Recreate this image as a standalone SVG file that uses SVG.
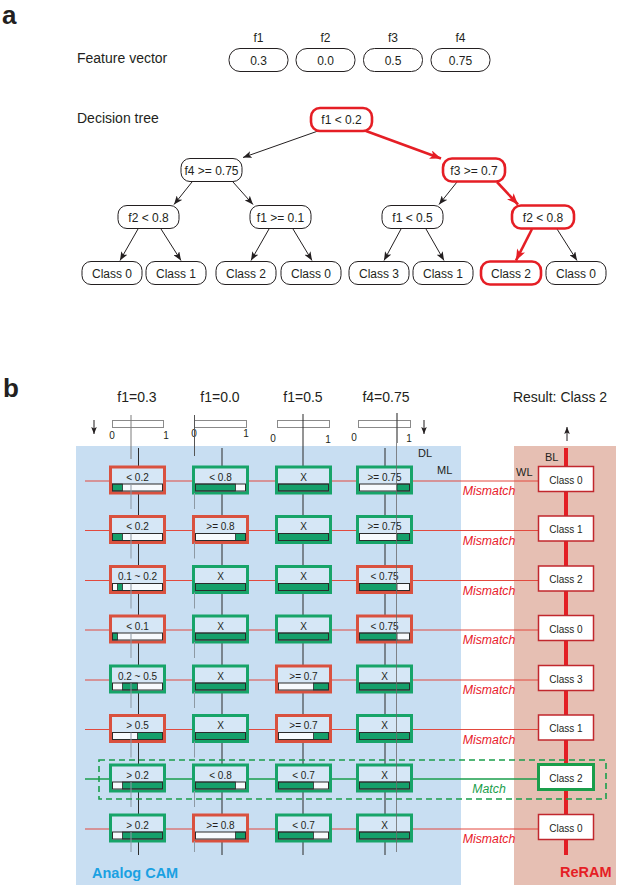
<svg xmlns="http://www.w3.org/2000/svg" width="619" height="886" viewBox="0 0 619 886">
<defs>
<marker id="ah" viewBox="0 0 10 8" refX="10" refY="4" markerWidth="9" markerHeight="7" markerUnits="userSpaceOnUse" orient="auto"><path d="M0,0 L10,4 L0,8 L2.5,4 z" fill="#231f20"/></marker>
<marker id="ahr" viewBox="0 0 10 8" refX="10" refY="4" markerWidth="12" markerHeight="9" markerUnits="userSpaceOnUse" orient="auto"><path d="M0,0 L10,4 L0,8 L2.5,4 z" fill="#e51e25"/></marker>
<marker id="ahs" viewBox="0 0 10 8" refX="10" refY="4" markerWidth="7" markerHeight="6" markerUnits="userSpaceOnUse" orient="auto"><path d="M0,0 L10,4 L0,8 L2,4 z" fill="#231f20"/></marker>
</defs>
<style>
text{font-family:"Liberation Sans",Arial,Helvetica,sans-serif;fill:#231f20}
.lbl{font-weight:bold}
.t14{font-size:14px}
.t12{font-size:12px}
.t11{font-size:11px}
.t10{font-size:10px}
.mid{text-anchor:middle}
.node rect,.fv rect{fill:#fff;stroke:#231f20;stroke-width:1}
.node.hot rect{stroke:#e51e25;stroke-width:2.6}
.node text,.fv text{font-size:12px;text-anchor:middle}
.edge{stroke:#231f20;stroke-width:1;fill:none;marker-end:url(#ah)}
.edge.hot{stroke:#e51e25;stroke-width:2.6;marker-end:url(#ahr)}
.cam text{font-size:10px;text-anchor:middle}
.cam .cb{fill:#d6e7f6;stroke-width:3}
.cam.r .cb{stroke:#d9513f}
.cam.g .cb{stroke:#17a469}
.cam .bw{fill:#f7fafd}
.cam .bg{fill:#15a06b;stroke:#2b2b2b;stroke-width:0.8}
.cam .bo{fill:none;stroke:#2b2b2b;stroke-width:1}
.rr rect{fill:#fff;stroke:#c1272d;stroke-width:1.5}
.rr.ok rect{stroke:#1a9e4b;stroke-width:3}
.rr text{font-size:10px;text-anchor:middle}
.ml{stroke:#e2493e;stroke-width:1}
.ml.ok{stroke:#1a9e4b;stroke-width:1.6}
.dl{stroke:#2b2b2b;stroke-width:1}
.mk{stroke:#8d99a4;stroke-width:1}
.mis{font-size:12.3px;font-style:italic;fill:#e8202a;text-anchor:middle}
.mat{font-size:12.3px;font-style:italic;fill:#1a9e4b;text-anchor:middle}
.rule{fill:none;stroke:#8a8a8a;stroke-width:1}
</style>

<!-- ===== Part a ===== -->
<text class="lbl" x="2" y="24" font-size="26">a</text>
<text class="t14" x="77" y="63">Feature vector</text>
<text class="t14" x="77" y="123">Decision tree</text>

<g id="feature-vector">
  <g id="fv1" class="fv"><text x="258.5" y="42">f1</text><rect x="229" y="48.5" width="59" height="23" rx="11"/><text x="258.5" y="64.5">0.3</text></g>
  <g id="fv2" class="fv"><text x="325.5" y="42">f2</text><rect x="296" y="48.5" width="59" height="23" rx="11"/><text x="325.5" y="64.5">0.0</text></g>
  <g id="fv3" class="fv"><text x="393" y="42">f3</text><rect x="363.5" y="48.5" width="59" height="23" rx="11"/><text x="393" y="64.5">0.5</text></g>
  <g id="fv4" class="fv"><text x="460.5" y="42">f4</text><rect x="431" y="48.5" width="59" height="23" rx="11"/><text x="460.5" y="64.5">0.75</text></g>
</g>

<g id="tree-edges">
  <line class="edge" x1="318" y1="131" x2="243" y2="157.5"/>
  <line class="edge hot" x1="366" y1="131" x2="441" y2="158.5"/>
  <line class="edge" x1="192" y1="182" x2="174" y2="204.5"/>
  <line class="edge" x1="233" y1="182" x2="253" y2="204.5"/>
  <line class="edge" x1="457" y1="182" x2="439" y2="204.5"/>
  <line class="edge hot" x1="497" y1="182" x2="518" y2="204.5"/>
  <line class="edge" x1="138" y1="229" x2="120" y2="260.5"/>
  <line class="edge" x1="161" y1="229" x2="181" y2="260.5"/>
  <line class="edge" x1="269" y1="229" x2="251" y2="260.5"/>
  <line class="edge" x1="293" y1="229" x2="312" y2="260.5"/>
  <line class="edge" x1="401" y1="229" x2="384" y2="260.5"/>
  <line class="edge" x1="426" y1="229" x2="444" y2="260.5"/>
  <line class="edge hot" x1="532" y1="229" x2="516" y2="260.5"/>
  <line class="edge" x1="557" y1="229" x2="577" y2="260.5"/>
</g>

<g id="n-root" class="node hot"><rect x="311" y="108" width="61" height="23" rx="9"/><text x="341.5" y="124">f1 &lt; 0.2</text></g>
<g id="n-f4" class="node"><rect x="181" y="158.5" width="61" height="23" rx="9"/><text x="211.5" y="174.5">f4 &gt;= 0.75</text></g>
<g id="n-f3" class="node hot"><rect x="443" y="158.5" width="62" height="23" rx="9"/><text x="474" y="174.5">f3 &gt;= 0.7</text></g>
<g id="n-f2a" class="node"><rect x="118" y="205.5" width="61" height="23" rx="9"/><text x="148.5" y="221.5">f2 &lt; 0.8</text></g>
<g id="n-f1b" class="node"><rect x="250" y="205.5" width="61" height="23" rx="9"/><text x="280.5" y="221.5">f1 &gt;= 0.1</text></g>
<g id="n-f1c" class="node"><rect x="382" y="205.5" width="61" height="23" rx="9"/><text x="412.5" y="221.5">f1 &lt; 0.5</text></g>
<g id="n-f2d" class="node hot"><rect x="512" y="205.5" width="62" height="23" rx="9"/><text x="543" y="221.5">f2 &lt; 0.8</text></g>
<g id="leaf1" class="node"><rect x="82" y="261.5" width="60" height="23" rx="9"/><text x="112" y="277.5">Class 0</text></g>
<g id="leaf2" class="node"><rect x="146" y="261.5" width="60" height="23" rx="9"/><text x="176" y="277.5">Class 1</text></g>
<g id="leaf3" class="node"><rect x="216" y="261.5" width="60" height="23" rx="9"/><text x="246" y="277.5">Class 2</text></g>
<g id="leaf4" class="node"><rect x="281" y="261.5" width="60" height="23" rx="9"/><text x="311" y="277.5">Class 0</text></g>
<g id="leaf5" class="node"><rect x="349" y="261.5" width="60" height="23" rx="9"/><text x="379" y="277.5">Class 3</text></g>
<g id="leaf6" class="node"><rect x="413" y="261.5" width="60" height="23" rx="9"/><text x="443" y="277.5">Class 1</text></g>
<g id="leaf7" class="node hot"><rect x="481" y="261.5" width="60" height="23" rx="9"/><text x="511" y="277.5">Class 2</text></g>
<g id="leaf8" class="node"><rect x="546" y="261.5" width="60" height="23" rx="9"/><text x="576" y="277.5">Class 0</text></g>

<!-- ===== Part b ===== -->
<text class="lbl" x="3" y="397" font-size="26">b</text>
<g id="inputs">
  <text class="t14 mid" x="137" y="402">f1=0.3</text>
  <text class="t14 mid" x="220" y="402">f1=0.0</text>
  <text class="t14 mid" x="303" y="402">f1=0.5</text>
  <text class="t14 mid" x="386" y="402">f4=0.75</text>
  <text class="t14 mid" x="560" y="402">Result: Class 2</text>
  <rect class="rule" x="112.5" y="420.5" width="51" height="7"/>
  <rect class="rule" x="194.5" y="420.5" width="52" height="7"/>
  <rect class="rule" x="277.5" y="420.5" width="52" height="7"/>
  <rect class="rule" x="358.5" y="420.5" width="52" height="7"/>
  <text class="t10 mid" x="112" y="439">0</text><text class="t10 mid" x="166" y="439">1</text>
  <text class="t10 mid" x="194" y="437">0</text><text class="t10 mid" x="246" y="437">1</text>
  <text class="t10 mid" x="273" y="442">0</text><text class="t10 mid" x="328" y="443">1</text>
  <text class="t10 mid" x="354" y="441">0</text><text class="t10 mid" x="409" y="442">1</text>
  <line x1="94" y1="420" x2="94" y2="434" stroke="#231f20" stroke-width="1" marker-end="url(#ahs)"/>
  <line x1="424" y1="420" x2="424" y2="434" stroke="#231f20" stroke-width="1" marker-end="url(#ahs)"/>
  <line x1="567" y1="441" x2="567" y2="427" stroke="#231f20" stroke-width="1" marker-end="url(#ahs)"/>
</g>

<rect id="cam-bg" x="76" y="446" width="385" height="439" fill="#c8def2"/>
<rect id="reram-bg" x="514" y="446" width="102" height="439" fill="#e6bfb3"/>

<g id="lines">
  <!-- value marks above array -->
  <line x1="131" y1="415" x2="131" y2="459" stroke="#7d7d7d"/>
  <line x1="194.5" y1="415" x2="194.5" y2="456" stroke="#555"/>
  <line x1="397" y1="413" x2="397" y2="443" stroke="#444" stroke-width="1.2"/>
  <!-- DLs -->
  <line class="dl" x1="138.5" y1="448" x2="138.5" y2="855"/>
  <line class="dl" x1="222" y1="448" x2="222" y2="855"/>
  <line class="dl" x1="303" y1="414" x2="303" y2="855"/>
  <line class="dl" x1="385" y1="448" x2="385" y2="855" stroke="#7f7f7f" stroke-width="1.6"/>
  <!-- MLs -->
  <line class="ml" x1="85" y1="481" x2="538" y2="481"/>
  <line class="ml" x1="85" y1="530.5" x2="538" y2="530.5"/>
  <line class="ml" x1="85" y1="580.5" x2="538" y2="580.5"/>
  <line class="ml" x1="85" y1="630" x2="538" y2="630"/>
  <line class="ml" x1="85" y1="680" x2="538" y2="680"/>
  <line class="ml" x1="85" y1="729.5" x2="538" y2="729.5"/>
  <line class="ml ok" x1="85" y1="779" x2="538" y2="779"/>
  <line class="ml" x1="85" y1="829" x2="538" y2="829"/>
  <!-- BL -->
  <line x1="566" y1="448" x2="566" y2="855" stroke="#e31e24" stroke-width="4"/>
</g>

<g id="row1" transform="translate(0,467)">
  <g id="r1c1" class="cam r"><rect class="cb" x="110.5" y="0" width="54" height="26"/><text x="137.5" y="13.5">&lt; 0.2</text><rect class="bw" x="112.5" y="17" width="50" height="7"/><rect class="bg" x="112.5" y="17" width="10" height="7"/><rect class="bo" x="112.5" y="17" width="50" height="7"/></g>
  <g id="r1c2" class="cam g"><rect class="cb" x="193.5" y="0" width="54" height="26"/><text x="220.5" y="13.5">&lt; 0.8</text><rect class="bw" x="195.5" y="17" width="50" height="7"/><rect class="bg" x="195.5" y="17" width="40" height="7"/><rect class="bo" x="195.5" y="17" width="50" height="7"/></g>
  <g id="r1c3" class="cam g"><rect class="cb" x="276.5" y="0" width="54" height="26"/><text x="303.5" y="13.5">X</text><rect class="bw" x="278.5" y="17" width="50" height="7"/><rect class="bg" x="278.5" y="17" width="50" height="7"/><rect class="bo" x="278.5" y="17" width="50" height="7"/></g>
  <g id="r1c4" class="cam g"><rect class="cb" x="357.5" y="0" width="54" height="26"/><text x="384.5" y="13.5">&gt;= 0.75</text><rect class="bw" x="359.5" y="17" width="50" height="7"/><rect class="bg" x="397" y="17" width="12.5" height="7"/><rect class="bo" x="359.5" y="17" width="50" height="7"/></g>
  <g id="rr1" class="rr"><rect x="538.5" y="-0.5" width="55" height="25"/><text x="566" y="16.5">Class 0</text></g>
  <text class="mis" x="489" y="28">Mismatch</text>
</g>

<g id="row2" transform="translate(0,516.5)">
  <g id="r2c1" class="cam r"><rect class="cb" x="110.5" y="0" width="54" height="26"/><text x="137.5" y="13.5">&lt; 0.2</text><rect class="bw" x="112.5" y="17" width="50" height="7"/><rect class="bg" x="112.5" y="17" width="10" height="7"/><rect class="bo" x="112.5" y="17" width="50" height="7"/></g>
  <g id="r2c2" class="cam r"><rect class="cb" x="193.5" y="0" width="54" height="26"/><text x="220.5" y="13.5">&gt;= 0.8</text><rect class="bw" x="195.5" y="17" width="50" height="7"/><rect class="bg" x="235.5" y="17" width="10" height="7"/><rect class="bo" x="195.5" y="17" width="50" height="7"/></g>
  <g id="r2c3" class="cam g"><rect class="cb" x="276.5" y="0" width="54" height="26"/><text x="303.5" y="13.5">X</text><rect class="bw" x="278.5" y="17" width="50" height="7"/><rect class="bg" x="278.5" y="17" width="50" height="7"/><rect class="bo" x="278.5" y="17" width="50" height="7"/></g>
  <g id="r2c4" class="cam g"><rect class="cb" x="357.5" y="0" width="54" height="26"/><text x="384.5" y="13.5">&gt;= 0.75</text><rect class="bw" x="359.5" y="17" width="50" height="7"/><rect class="bg" x="397" y="17" width="12.5" height="7"/><rect class="bo" x="359.5" y="17" width="50" height="7"/></g>
  <g id="rr2" class="rr"><rect x="538.5" y="-0.5" width="55" height="25"/><text x="566" y="16.5">Class 1</text></g>
  <text class="mis" x="489" y="28">Mismatch</text>
</g>

<g id="row3" transform="translate(0,566.5)">
  <g id="r3c1" class="cam r"><rect class="cb" x="110.5" y="0" width="54" height="26"/><text x="137.5" y="13.5">0.1 ~ 0.2</text><rect class="bw" x="112.5" y="17" width="50" height="7"/><rect class="bg" x="117.5" y="17" width="5" height="7"/><rect class="bo" x="112.5" y="17" width="50" height="7"/></g>
  <g id="r3c2" class="cam g"><rect class="cb" x="193.5" y="0" width="54" height="26"/><text x="220.5" y="13.5">X</text><rect class="bw" x="195.5" y="17" width="50" height="7"/><rect class="bg" x="195.5" y="17" width="50" height="7"/><rect class="bo" x="195.5" y="17" width="50" height="7"/></g>
  <g id="r3c3" class="cam g"><rect class="cb" x="276.5" y="0" width="54" height="26"/><text x="303.5" y="13.5">X</text><rect class="bw" x="278.5" y="17" width="50" height="7"/><rect class="bg" x="278.5" y="17" width="50" height="7"/><rect class="bo" x="278.5" y="17" width="50" height="7"/></g>
  <g id="r3c4" class="cam r"><rect class="cb" x="357.5" y="0" width="54" height="26"/><text x="384.5" y="13.5">&lt; 0.75</text><rect class="bw" x="359.5" y="17" width="50" height="7"/><rect class="bg" x="359.5" y="17" width="37.5" height="7"/><rect class="bo" x="359.5" y="17" width="50" height="7"/></g>
  <g id="rr3" class="rr"><rect x="538.5" y="-0.5" width="55" height="25"/><text x="566" y="16.5">Class 2</text></g>
  <text class="mis" x="489" y="28">Mismatch</text>
</g>

<g id="row4" transform="translate(0,616)">
  <g id="r4c1" class="cam r"><rect class="cb" x="110.5" y="0" width="54" height="26"/><text x="137.5" y="13.5">&lt; 0.1</text><rect class="bw" x="112.5" y="17" width="50" height="7"/><rect class="bg" x="112.5" y="17" width="5" height="7"/><rect class="bo" x="112.5" y="17" width="50" height="7"/></g>
  <g id="r4c2" class="cam g"><rect class="cb" x="193.5" y="0" width="54" height="26"/><text x="220.5" y="13.5">X</text><rect class="bw" x="195.5" y="17" width="50" height="7"/><rect class="bg" x="195.5" y="17" width="50" height="7"/><rect class="bo" x="195.5" y="17" width="50" height="7"/></g>
  <g id="r4c3" class="cam g"><rect class="cb" x="276.5" y="0" width="54" height="26"/><text x="303.5" y="13.5">X</text><rect class="bw" x="278.5" y="17" width="50" height="7"/><rect class="bg" x="278.5" y="17" width="50" height="7"/><rect class="bo" x="278.5" y="17" width="50" height="7"/></g>
  <g id="r4c4" class="cam r"><rect class="cb" x="357.5" y="0" width="54" height="26"/><text x="384.5" y="13.5">&lt; 0.75</text><rect class="bw" x="359.5" y="17" width="50" height="7"/><rect class="bg" x="359.5" y="17" width="37.5" height="7"/><rect class="bo" x="359.5" y="17" width="50" height="7"/></g>
  <g id="rr4" class="rr"><rect x="538.5" y="-0.5" width="55" height="25"/><text x="566" y="16.5">Class 0</text></g>
  <text class="mis" x="489" y="28">Mismatch</text>
</g>

<g id="row5" transform="translate(0,666)">
  <g id="r5c1" class="cam g"><rect class="cb" x="110.5" y="0" width="54" height="26"/><text x="137.5" y="13.5">0.2 ~ 0.5</text><rect class="bw" x="112.5" y="17" width="50" height="7"/><rect class="bg" x="122.5" y="17" width="15" height="7"/><rect class="bo" x="112.5" y="17" width="50" height="7"/></g>
  <g id="r5c2" class="cam g"><rect class="cb" x="193.5" y="0" width="54" height="26"/><text x="220.5" y="13.5">X</text><rect class="bw" x="195.5" y="17" width="50" height="7"/><rect class="bg" x="195.5" y="17" width="50" height="7"/><rect class="bo" x="195.5" y="17" width="50" height="7"/></g>
  <g id="r5c3" class="cam r"><rect class="cb" x="276.5" y="0" width="54" height="26"/><text x="303.5" y="13.5">&gt;= 0.7</text><rect class="bw" x="278.5" y="17" width="50" height="7"/><rect class="bg" x="313.5" y="17" width="15" height="7"/><rect class="bo" x="278.5" y="17" width="50" height="7"/></g>
  <g id="r5c4" class="cam g"><rect class="cb" x="357.5" y="0" width="54" height="26"/><text x="384.5" y="13.5">X</text><rect class="bw" x="359.5" y="17" width="50" height="7"/><rect class="bg" x="359.5" y="17" width="50" height="7"/><rect class="bo" x="359.5" y="17" width="50" height="7"/></g>
  <g id="rr5" class="rr"><rect x="538.5" y="-0.5" width="55" height="25"/><text x="566" y="16.5">Class 3</text></g>
  <text class="mis" x="489" y="28">Mismatch</text>
</g>

<g id="row6" transform="translate(0,715.5)">
  <g id="r6c1" class="cam r"><rect class="cb" x="110.5" y="0" width="54" height="26"/><text x="137.5" y="13.5">&gt; 0.5</text><rect class="bw" x="112.5" y="17" width="50" height="7"/><rect class="bg" x="137.5" y="17" width="25" height="7"/><rect class="bo" x="112.5" y="17" width="50" height="7"/></g>
  <g id="r6c2" class="cam g"><rect class="cb" x="193.5" y="0" width="54" height="26"/><text x="220.5" y="13.5">X</text><rect class="bw" x="195.5" y="17" width="50" height="7"/><rect class="bg" x="195.5" y="17" width="50" height="7"/><rect class="bo" x="195.5" y="17" width="50" height="7"/></g>
  <g id="r6c3" class="cam r"><rect class="cb" x="276.5" y="0" width="54" height="26"/><text x="303.5" y="13.5">&gt;= 0.7</text><rect class="bw" x="278.5" y="17" width="50" height="7"/><rect class="bg" x="313.5" y="17" width="15" height="7"/><rect class="bo" x="278.5" y="17" width="50" height="7"/></g>
  <g id="r6c4" class="cam g"><rect class="cb" x="357.5" y="0" width="54" height="26"/><text x="384.5" y="13.5">X</text><rect class="bw" x="359.5" y="17" width="50" height="7"/><rect class="bg" x="359.5" y="17" width="50" height="7"/><rect class="bo" x="359.5" y="17" width="50" height="7"/></g>
  <g id="rr6" class="rr"><rect x="538.5" y="-0.5" width="55" height="25"/><text x="566" y="16.5">Class 1</text></g>
  <text class="mis" x="489" y="28">Mismatch</text>
</g>

<g id="row7" transform="translate(0,765)">
  <g id="r7c1" class="cam g"><rect class="cb" x="110.5" y="0" width="54" height="26"/><text x="137.5" y="13.5">&gt; 0.2</text><rect class="bw" x="112.5" y="17" width="50" height="7"/><rect class="bg" x="122.5" y="17" width="40" height="7"/><rect class="bo" x="112.5" y="17" width="50" height="7"/></g>
  <g id="r7c2" class="cam g"><rect class="cb" x="193.5" y="0" width="54" height="26"/><text x="220.5" y="13.5">&lt; 0.8</text><rect class="bw" x="195.5" y="17" width="50" height="7"/><rect class="bg" x="195.5" y="17" width="40" height="7"/><rect class="bo" x="195.5" y="17" width="50" height="7"/></g>
  <g id="r7c3" class="cam g"><rect class="cb" x="276.5" y="0" width="54" height="26"/><text x="303.5" y="13.5">&lt; 0.7</text><rect class="bw" x="278.5" y="17" width="50" height="7"/><rect class="bg" x="278.5" y="17" width="35" height="7"/><rect class="bo" x="278.5" y="17" width="50" height="7"/></g>
  <g id="r7c4" class="cam g"><rect class="cb" x="357.5" y="0" width="54" height="26"/><text x="384.5" y="13.5">X</text><rect class="bw" x="359.5" y="17" width="50" height="7"/><rect class="bg" x="359.5" y="17" width="50" height="7"/><rect class="bo" x="359.5" y="17" width="50" height="7"/></g>
  <g id="rr7" class="rr ok"><rect x="538.5" y="-0.5" width="55" height="25"/><text x="566" y="16.5">Class 2</text></g>
  <text class="mat" x="489" y="28">Match</text>
</g>

<g id="row8" transform="translate(0,815)">
  <g id="r8c1" class="cam g"><rect class="cb" x="110.5" y="0" width="54" height="26"/><text x="137.5" y="13.5">&gt; 0.2</text><rect class="bw" x="112.5" y="17" width="50" height="7"/><rect class="bg" x="122.5" y="17" width="40" height="7"/><rect class="bo" x="112.5" y="17" width="50" height="7"/></g>
  <g id="r8c2" class="cam r"><rect class="cb" x="193.5" y="0" width="54" height="26"/><text x="220.5" y="13.5">&gt;= 0.8</text><rect class="bw" x="195.5" y="17" width="50" height="7"/><rect class="bg" x="235.5" y="17" width="10" height="7"/><rect class="bo" x="195.5" y="17" width="50" height="7"/></g>
  <g id="r8c3" class="cam g"><rect class="cb" x="276.5" y="0" width="54" height="26"/><text x="303.5" y="13.5">&lt; 0.7</text><rect class="bw" x="278.5" y="17" width="50" height="7"/><rect class="bg" x="278.5" y="17" width="35" height="7"/><rect class="bo" x="278.5" y="17" width="50" height="7"/></g>
  <g id="r8c4" class="cam g"><rect class="cb" x="357.5" y="0" width="54" height="26"/><text x="384.5" y="13.5">X</text><rect class="bw" x="359.5" y="17" width="50" height="7"/><rect class="bg" x="359.5" y="17" width="50" height="7"/><rect class="bo" x="359.5" y="17" width="50" height="7"/></g>
  <g id="rr8" class="rr"><rect x="538.5" y="-0.5" width="55" height="25"/><text x="566" y="16.5">Class 0</text></g>
  <text class="mis" x="489" y="28">Mismatch</text>
</g>

<g id="value-marks">
  <path class="mk" d="M131,484V509 M131,533.5V558.5 M131,583.5V608.5 M131,633V658 M131,683V708 M131,732.5V757.5 M131,782V807 M131,832V852"/>
  <path class="mk" stroke="#7a8590" d="M194.5,493V509 M194.5,542.5V558.5 M194.5,592.5V608.5 M194.5,642V658 M194.5,692V708 M194.5,741.5V757.5 M194.5,791V807 M194.5,841V852"/>
  <line x1="396.5" y1="443" x2="396.5" y2="852" stroke="#6b6b6b" stroke-width="0.8"/>
</g>

<rect id="match-box" x="99" y="760" width="507" height="39" fill="none" stroke="#1a9e4b" stroke-width="1.6" stroke-dasharray="6 4"/>

<g id="labels">
  <text class="t11" x="418" y="457">DL</text>
  <text class="t11" x="437" y="474">ML</text>
  <text class="t11" x="545" y="461">BL</text>
  <text class="t11" x="516" y="476">WL</text>
  <text class="lbl" x="92" y="878" font-size="14.5" style="fill:#1ba1e2">Analog CAM</text>
  <text class="lbl" x="560" y="877" font-size="14.5" style="fill:#e51e25">ReRAM</text>
</g>
</svg>
